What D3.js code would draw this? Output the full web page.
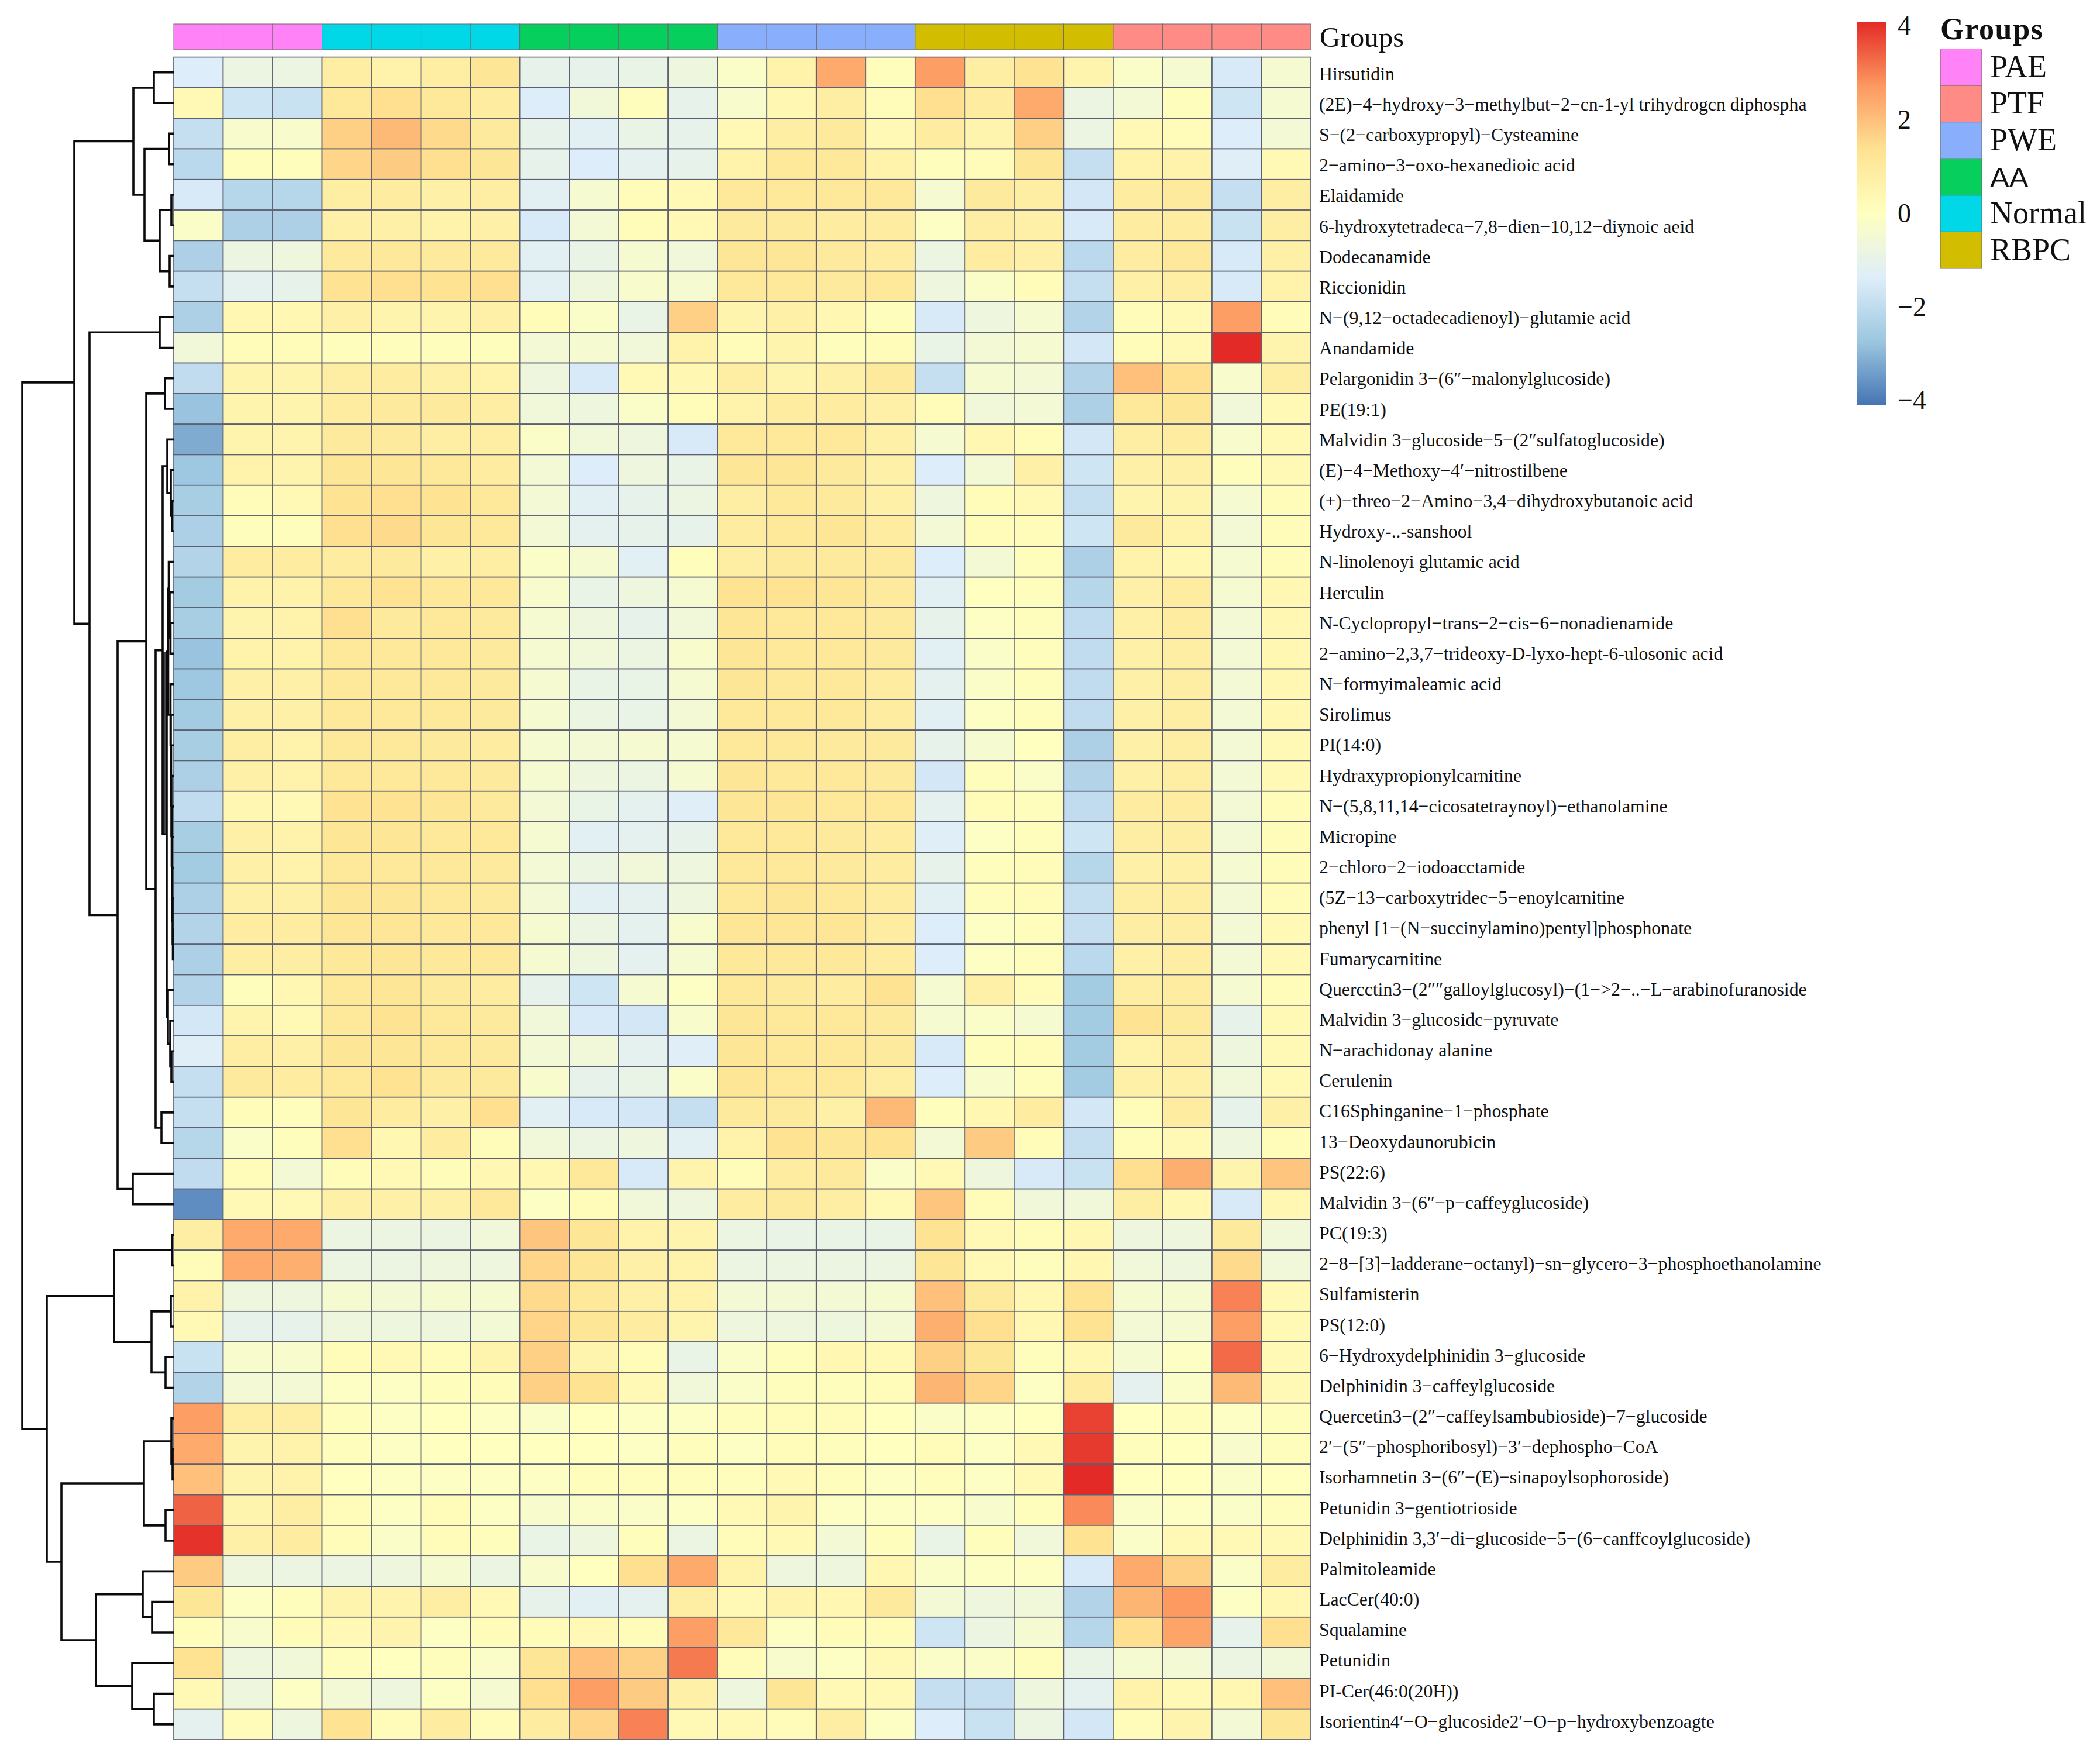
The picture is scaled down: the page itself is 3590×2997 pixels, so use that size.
<!DOCTYPE html>
<html>
<head>
<meta charset="utf-8">
<style>
  html, body { margin: 0; padding: 0; background: #fff; }
  text { font-family: "Liberation Serif", serif; fill: #111; }
</style>
<script src="https://cdn.jsdelivr.net/npm/d3@7"></script>
</head>
<body>
<script>
var rowLabels = [
  "Hirsutidin",
  "(2E)−4−hydroxy−3−methylbut−2−cn-1-yl trihydrogcn diphospha",
  "S−(2−carboxypropyl)−Cysteamine",
  "2−amino−3−oxo-hexanedioic acid",
  "Elaidamide",
  "6-hydroxytetradeca−7,8−dien−10,12−diynoic aeid",
  "Dodecanamide",
  "Riccionidin",
  "N−(9,12−octadecadienoyl)−glutamie acid",
  "Anandamide",
  "Pelargonidin 3−(6″−malonylglucoside)",
  "PE(19:1)",
  "Malvidin 3−glucoside−5−(2″sulfatoglucoside)",
  "(E)−4−Methoxy−4′−nitrostilbene",
  "(+)−threo−2−Amino−3,4−dihydroxybutanoic acid",
  "Hydroxy-..-sanshool",
  "N-linolenoyi glutamic acid",
  "Herculin",
  "N-Cyclopropyl−trans−2−cis−6−nonadienamide",
  "2−amino−2,3,7−trideoxy-D-lyxo-hept-6-ulosonic acid",
  "N−formyimaleamic acid",
  "Sirolimus",
  "PI(14:0)",
  "Hydraxypropionylcarnitine",
  "N−(5,8,11,14−cicosatetraynoyl)−ethanolamine",
  "Micropine",
  "2−chloro−2−iodoacctamide",
  "(5Z−13−carboxytridec−5−enoylcarnitine",
  "phenyl [1−(N−succinylamino)pentyl]phosphonate",
  "Fumarycarnitine",
  "Quercctin3−(2″″galloylglucosyl)−(1−>2−..−L−arabinofuranoside",
  "Malvidin 3−glucosidc−pyruvate",
  "N−arachidonay alanine",
  "Cerulenin",
  "C16Sphinganine−1−phosphate",
  "13−Deoxydaunorubicin",
  "PS(22:6)",
  "Malvidin 3−(6″−p−caffeyglucoside)",
  "PC(19:3)",
  "2−8−[3]−ladderane−octanyl)−sn−glycero−3−phosphoethanolamine",
  "Sulfamisterin",
  "PS(12:0)",
  "6−Hydroxydelphinidin 3−glucoside",
  "Delphinidin 3−caffeylglucoside",
  "Quercetin3−(2″−caffeylsambubioside)−7−glucoside",
  "2′−(5″−phosphoribosyl)−3′−dephospho−CoA",
  "Isorhamnetin 3−(6″−(E)−sinapoylsophoroside)",
  "Petunidin 3−gentiotrioside",
  "Delphinidin 3,3′−di−glucoside−5−(6−canffcoylglucoside)",
  "Palmitoleamide",
  "LacCer(40:0)",
  "Squalamine",
  "Petunidin",
  "PI-Cer(46:0(20H))",
  "Isorientin4′−O−glucoside2′−O−p−hydroxybenzoagte"
];

// one group name per column, left to right
var columnGroups = [
  "PAE", "PAE", "PAE",
  "Normal", "Normal", "Normal", "Normal",
  "AA", "AA", "AA", "AA",
  "PWE", "PWE", "PWE", "PWE",
  "RBPC", "RBPC", "RBPC", "RBPC",
  "PTF", "PTF", "PTF", "PTF"
];

var legendGroups = ["PAE", "PTF", "PWE", "AA", "Normal", "RBPC"];
var groupColors = ["#ff82f6", "#ff8b87", "#88aefc", "#06cf5d", "#00d8e8", "#d2bd00"];

var colorStops = [-4.1, -2.73, -1.37, 0, 1.37, 2.73, 4.1];
var colorRamp = ["#4575b4", "#9dc7e0", "#deeefa", "#ffffbf", "#fee291", "#fd9860", "#e32a26"];
var legendTicks = [-4, -2, 0, 2, 4];

var cellValues = [
  [-1.4,-.8,-.8,.8,.6,.8,1.2,-1,-1,-.9,-.7,-.2,.6,2.4,.1,2.6,.8,1.3,.5,-.2,-.4,-1.5,-.4],
  [.3,-1.7,-1.8,1.1,1.4,1.1,.9,-1.4,-.6,.1,-1,-.3,.4,.8,.2,1.4,.9,2.4,-.8,-.5,.1,-1.7,-.4],
  [-1.9,-.3,-.3,1.7,2.1,1.5,1,-1,-1.2,-.9,-1,.3,.8,1,.3,.9,.5,1.7,-.8,.3,.2,-1.4,-.5],
  [-2.1,.1,.1,1.6,1.8,1.4,1.2,-1,-1.4,-1.1,-1,.6,1.1,1.1,.6,.1,.2,1.2,-1.9,.6,.6,-1.3,.3],
  [-1.5,-2.2,-2.2,.8,.9,.7,.8,-1.2,-.4,.2,.3,1.1,1.1,1.1,1.1,-.4,1,.8,-1.6,.9,1,-1.9,.8],
  [-.2,-2.4,-2.4,.7,.7,.6,.7,-1.5,-.5,.2,.3,1,1,.9,.9,-.1,.8,.7,-1.5,.9,.9,-1.8,.8],
  [-2.4,-.8,-.7,1,1.1,1,1,-1.2,-.9,-.4,-.6,1.2,1.2,1,.9,-.8,.9,.7,-2.1,.9,1.1,-1.5,.7],
  [-1.9,-1.1,-1,1.3,1.4,1.3,1.4,-1.2,-.7,-.3,-.4,1.1,1.1,1,1.1,-.7,-.2,.2,-1.9,.7,.8,-1.5,.6],
  [-2.4,.4,.4,.7,.5,.5,.7,.2,-.2,-.9,1.7,.5,.7,.4,.1,-1.5,-.7,-.4,-2.3,.2,.3,2.6,.2],
  [-.6,.2,.2,.1,.1,.1,.1,-.5,-.4,-.6,.6,.2,.5,.1,.2,-.9,-.5,-.4,-1.6,.2,.3,4.1,.5],
  [-2,.5,.5,.8,.9,.7,.6,-.7,-1.5,.3,.4,.8,.5,.7,1,-1.9,-.4,-.5,-2.3,2,1.4,-.3,.8],
  [-2.8,.5,.5,.9,1,1,.8,-.6,-.7,-.2,.2,.6,.9,.9,.7,.2,-.6,-.5,-2.4,1.1,1.2,-.6,.3],
  [-3.2,.5,.5,1,1,.8,.8,-.2,-.6,-.7,-1.5,1.1,1.1,1.1,.7,-.4,.4,.2,-1.6,.8,.9,-.3,.3],
  [-2.7,.6,.5,1.2,1.2,1.1,.9,-.5,-1.4,-.7,-.9,1.2,1.2,1,.7,-1.4,-.5,.7,-1.7,.7,.7,.1,.3],
  [-2.5,.2,.3,1.3,1.4,1.3,1.1,-.5,-1.2,-1,-.8,.8,1.1,1,.7,-.7,.2,.3,-1.9,.5,.5,-.4,.2],
  [-2.4,.1,.1,1.4,1.5,1.2,1.1,-.5,-1.1,-1,-1,.9,1.1,1.2,.9,-.5,.2,.2,-1.7,1,.6,-.5,.2],
  [-2.3,.9,.9,.9,1,.7,.8,-.2,-.4,-1.2,.1,.8,1,1,1,-1.4,-.5,.1,-2.4,.6,.4,-.4,.2],
  [-2.6,.6,.6,1.1,1.3,1.1,1.1,-.3,-.9,-.7,-.4,1.3,1.3,1.2,1,-1.2,0,.1,-2.2,.7,.9,-.4,.4],
  [-2.5,.5,.6,1.4,1,1.1,1,-.4,-.7,-1,-.6,1.2,1.1,1.1,1,-1,-.1,.1,-2,.7,.9,-.5,.4],
  [-2.8,.6,.6,1.1,1.1,1.1,1,-.4,-.6,-.8,-.3,1.2,1.1,1.1,1,-1.2,-.2,.1,-2,.7,.8,-.5,.4],
  [-2.7,.7,.7,1.1,1.1,1.1,1,-.4,-.9,-.9,-.4,1.2,1.1,1.1,.9,-1.1,-.2,.1,-2,.7,.8,-.5,.4],
  [-2.6,.7,.7,1.1,1.1,1.1,1,-.4,-.8,-.9,-.5,1.1,1.1,1.1,.9,-1.2,-.1,.1,-2,.7,.8,-.5,.4],
  [-2.5,.8,.6,1.1,1.1,1,.9,-.4,-.5,-.4,-.4,1.1,1.1,1,1,-1,-.4,0,-2.4,.7,.8,-.5,.3],
  [-2.4,.7,.6,1.1,1.1,1.1,1,-.4,-.7,-.8,-.4,1.2,1.1,1.1,1,-1.6,.1,-.2,-2.3,.7,.8,-.5,.3],
  [-2,.4,.3,1.3,1.3,1.2,1,-.5,-.9,-1.1,-1.3,1.2,1.2,1.1,1.1,-1.1,.2,.1,-2,.9,.9,-.5,.2],
  [-2.5,.7,.6,1.2,1.2,1.1,1.1,-.4,-1.2,-1.1,-1,1.1,1.1,1,.9,-1.3,-.1,.1,-1.7,.8,.8,-.5,.2],
  [-2.6,.7,.6,1.1,1.1,1.1,1,-.5,-.8,-.6,-.7,1.1,1.1,1,.9,-1,.1,.2,-2.2,.7,.7,-.4,.2],
  [-2.4,.7,.7,1.2,1.2,1.1,1,-.5,-1.2,-1.1,-.7,1.1,1.2,1.1,.9,-1.2,.1,.2,-1.9,.8,.8,-.5,.2],
  [-2.3,.9,.9,1.2,1.2,1.1,1.1,-.4,-.8,-1.1,-.3,1.2,1.2,1.2,.9,-1.4,-.1,.1,-1.9,.8,.8,-.5,.3],
  [-2.4,.8,.8,1.1,1.2,1.1,1.1,-.4,-.7,-1.1,-.4,1.1,1.1,1.1,.9,-1.4,-.1,.1,-2.1,.7,.8,-.5,.3],
  [-2.3,.1,.4,1.1,1.2,1,.9,-1,-1.7,-.4,-.1,1.1,1,.9,1.3,-.4,.7,.2,-2.6,.8,.9,-.4,.2],
  [-1.6,.5,.3,1.1,1.3,1.1,1,-.6,-1.5,-1.6,-.3,1.2,1.1,1.1,1,-.4,-.2,-.4,-2.6,1.3,1,-1,.3],
  [-1.3,.8,.7,1.2,1.2,1.1,1,-.5,-.6,-1.1,-1.3,1.2,1.1,1.1,1,-1.5,.1,.2,-2.6,.6,.8,-.7,.3],
  [-1.9,1,.9,1.1,1.3,1,1,-.3,-1,-.9,-.2,1.2,1.1,1.1,.8,-1.4,-.3,.1,-2.6,.7,.7,-.6,.3],
  [-1.9,.2,.1,1.2,.9,.7,1.4,-1.2,-1.5,-1.6,-1.9,1,1,.7,2.1,.1,.4,.9,-1.6,.2,.9,-1,.7],
  [-2.2,-.2,.1,1.4,.4,.9,.2,-.6,-.8,-.7,-1.2,.6,1.3,1.2,1.3,-.5,1.8,.2,-1.9,.2,.3,-.7,.2],
  [-2,.2,-.5,.2,.3,.2,.4,.4,1.1,-1.5,.5,.2,.9,1,-.2,.3,-.7,-1.5,-1.8,1.4,2.3,.5,1.9],
  [-3.7,.3,.3,.7,.7,.7,1.1,-.1,.2,-.6,-.7,.9,1,.8,.3,1.9,.2,-.6,-.6,.8,.4,-1.5,.4],
  [.8,2.4,2.4,-.8,-.8,-.8,-.6,1.9,1.2,.6,.5,-.8,-.9,-.9,-.9,1.3,.3,.2,.4,-.7,-.7,1,-.6],
  [.2,2.4,2.3,-.8,-.8,-.7,-.7,1.6,1.2,.7,.6,-.8,-.8,-.8,-.8,1.2,.3,.1,.4,-.6,-.7,1.5,-.6],
  [.6,-.7,-.7,-.4,-.5,-.4,-.4,1.5,1.1,.7,.6,-.5,-.5,-.5,-.4,2,1,.4,1.3,-.4,-.4,3,.3],
  [.3,-1,-1,-.7,-.7,-.7,-.5,1.6,1.2,.9,.5,-.7,-.7,-.7,-.5,2.3,1.4,.4,1.3,-.5,-.4,2.6,.3],
  [-1.8,-.3,-.3,.2,.3,.2,.5,1.7,.5,.2,-.9,-.2,.1,.4,.3,1.7,1.2,.1,.4,-.4,-.1,3.3,.3],
  [-2.3,-.5,-.5,-.1,-.1,.1,.2,1.7,1.3,.3,-.6,-.2,.1,.1,.2,2.2,1.6,-.1,.9,-1.1,-.2,2.1,.3],
  [2.6,.8,.8,.1,-.1,0,-.1,-.2,0,-.1,-.1,.1,.2,.2,0,-.2,-.1,0,3.8,0,.1,-.1,.1],
  [2.4,.5,.6,.1,-.1,0,0,0,0,-.1,.1,-.1,.2,.1,0,.2,-.1,.3,3.9,.1,0,-.3,.1],
  [2,.5,.6,0,-.1,-.1,-.1,-.1,.1,.1,.1,.1,.3,.1,-.1,.1,-.1,.3,4.1,0,0,-.2,0],
  [3.4,.5,.8,.2,-.1,.2,-.1,-.3,-.2,-.2,-.1,.3,.5,-.1,-.1,-.1,-.3,.1,2.9,-.2,-.1,-.2,.1],
  [4,.7,.9,.2,-.2,.2,.1,-.9,-.7,.1,-.8,.2,.3,-.5,.1,-.9,.1,-.6,1.3,-.2,.3,.3,.3],
  [1.8,-.7,-.8,-.8,-.7,-.4,-.8,-.3,0,1.4,2.4,.6,-.7,-.7,.4,-.2,-.1,-.1,-1.5,2.4,1.7,-.2,.9],
  [1.2,-.1,.1,.5,.5,.8,.3,-1,-1.2,-1.1,.8,.3,.5,.4,1,-.5,-.7,-.6,-2.3,2.2,2.7,-.1,.4],
  [.1,-.3,.2,.3,.5,-.1,.2,.2,.3,.2,2.6,1.1,-.1,.2,.2,-1.7,-.8,-.4,-2.2,1.4,2.5,-1,1.4],
  [1.3,-.7,-.6,.1,0,.1,-.2,1.2,2,1.7,3.1,.2,-.3,-.1,.3,-.2,-.2,.1,-.9,-.4,-.5,-.8,-.6],
  [.3,-.7,-.1,-.5,-.7,-.1,-.4,1.4,2.6,1.8,.7,-.7,1.2,.3,.3,-1.9,-1.9,-.7,-1.1,.6,.3,.4,2],
  [-1.1,.2,-.7,1.3,.2,.9,.2,.9,1.6,3,.3,.3,.2,.8,-.1,-1.4,-1.8,-.8,-1.6,.2,.5,-.5,1.2]
];

// hclust style merge table: negative = row number, positive = earlier merge, then height
var rowMerges = [
  [-1,-2,3.4], [-3,-4,.8], [-5,-6,.4], [-7,-8,.7], [3,4,2.4], [2,5,5], [1,6,6.9],
  [-9,-10,2.4], [-11,-12,1.5], [-15,-16,.3], [-14,10,.5], [-13,11,1.1],
  [-29,-30,.15], [-28,13,.2], [-27,14,.25], [-26,15,.3], [-25,16,.35], [-24,17,.4],
  [-23,18,.45], [-22,19,.5], [-21,20,.55], [-19,-20,.55], [-18,22,.7], [-17,23,.85], [24,21,.95],
  [-33,-34,.4], [-32,26,.6], [-31,27,1], [25,28,1.2], [12,29,1.9], [-35,-36,2.1],
  [30,31,3.1], [9,32,4.7], [-37,-38,7], [33,34,9.6], [8,35,14.4], [7,36,17],
  [-39,-40,.3], [-41,-42,.5], [-43,-44,1.4], [39,40,3.8], [38,41,10.2],
  [-46,-47,.2], [-45,43,.4], [-48,-49,1.4], [44,45,5.1],
  [-51,-52,3.7], [-50,47,5.3], [-54,-55,3.4], [-53,49,7.1], [48,50,13.3],
  [46,51,19.2], [42,52,21.7], [37,53,25.9]
];

var width = 3590, height = 2997;
var heatLeft = 297, heatRight = 2241, heatTop = 97.6, heatBottom = 2974;

var svg = d3.select("body")
  .append("svg")
  .attr("width", width)
  .attr("height", height);

var x = d3.scaleBand().domain(d3.range(columnGroups.length)).range([heatLeft, heatRight]);
var y = d3.scaleBand().domain(rowLabels).range([heatTop, heatBottom]);
var color = d3.scaleLinear().domain(colorStops).range(colorRamp).clamp(true);
var groupColor = d3.scaleOrdinal().domain(legendGroups).range(groupColors);

// cells
var rows = svg.append("g").selectAll("g")
  .data(cellValues)
  .enter().append("g")
  .attr("transform", function (d, i) { return "translate(0," + y(rowLabels[i]) + ")"; });

rows.selectAll("rect")
  .data(function (d) { return d; })
  .enter().append("rect")
  .attr("x", function (d, i) { return x(i); })
  .attr("width", x.bandwidth())
  .attr("height", y.bandwidth())
  .attr("fill", function (d) { return color(d); })
  .attr("stroke", "#5d6070")
  .attr("stroke-width", 1.7);

// column annotation
svg.append("g").selectAll("rect")
  .data(columnGroups)
  .enter().append("rect")
  .attr("x", function (d, i) { return x(i); })
  .attr("y", 41)
  .attr("width", x.bandwidth())
  .attr("height", 44)
  .attr("fill", function (d) { return groupColor(d); })
  .attr("stroke", "#6b6b6b")
  .attr("stroke-width", 1);

svg.append("text")
  .attr("x", 2256)
  .attr("y", 80)
  .attr("font-size", 49)
  .text("Groups");

// row labels sit on a slightly tighter pitch than the cells in the reference
var labelY = d3.scalePoint().domain(rowLabels).range([126, 2943]);
var rowAxis = svg.append("g")
  .attr("transform", "translate(" + 2255 + ",0)")
  .call(d3.axisRight(labelY).tickSize(0).tickPadding(0));
rowAxis.select(".domain").remove();
rowAxis.selectAll("text")
  .attr("font-family", "Liberation Serif")
  .attr("font-size", 31.8);

// dendrogram
var heightX = d3.scaleLinear().domain([0, 25.9]).range([heatLeft, 38]);
var nodes = [];

function nodeOf(ref) {
  if (ref < 0) {
    return { y: y(rowLabels[-ref - 1]) + y.bandwidth() / 2, h: 0 };
  }
  return nodes[ref - 1];
}

var dendro = d3.path();
rowMerges.forEach(function (m) {
  var a = nodeOf(m[0]), b = nodeOf(m[1]), hx = heightX(m[2]);
  dendro.moveTo(heightX(a.h), a.y);
  dendro.lineTo(hx, a.y);
  dendro.lineTo(hx, b.y);
  dendro.lineTo(heightX(b.h), b.y);
  nodes.push({ y: (a.y + b.y) / 2, h: m[2] });
});

// merges 29 and 30 run side by side and blur into a dark band in the reference
svg.append("rect")
  .attr("x", heightX(nodes[29].h))
  .attr("y", nodes[24].y)
  .attr("width", heightX(nodes[28].h) - heightX(nodes[29].h))
  .attr("height", nodes[28].y - nodes[24].y)
  .attr("fill", "#444");

svg.append("path")
  .attr("d", dendro.toString())
  .attr("fill", "none")
  .attr("stroke", "#0a0a0a")
  .attr("stroke-width", 3.6);

// colour bar
var legendY = d3.scaleLinear().domain([-4.09, 4.09]).range([692, 37]);
var gradient = svg.append("defs").append("linearGradient")
  .attr("id", "bar")
  .attr("x1", 0).attr("x2", 0).attr("y1", 1).attr("y2", 0);
gradient.selectAll("stop")
  .data(colorStops)
  .enter().append("stop")
  .attr("offset", function (d) { return (d + 4.1) / 8.2; })
  .attr("stop-color", function (d) { return color(d); });

svg.append("rect")
  .attr("x", 3174.5)
  .attr("y", legendY(4.09))
  .attr("width", 50.5)
  .attr("height", legendY(-4.09) - legendY(4.09))
  .attr("fill", "url(#bar)");

var legendAxis = svg.append("g")
  .attr("transform", "translate(3244,0)")
  .call(d3.axisRight(legendY).tickValues(legendTicks).tickSize(0).tickPadding(0));
legendAxis.select(".domain").remove();
legendAxis.selectAll("text")
  .attr("font-family", "Liberation Sans")
  .attr("font-size", 46);

// group legend
var swatchY = d3.scaleBand().domain(legendGroups).range([83.5, 459]);

svg.append("text")
  .attr("x", 3317)
  .attr("y", 67)
  .attr("font-size", 52)
  .attr("font-weight", "bold")
  .attr("textLength", 175)
  .text("Groups");

svg.append("g").selectAll("rect")
  .data(legendGroups)
  .enter().append("rect")
  .attr("x", 3317)
  .attr("y", function (d) { return swatchY(d); })
  .attr("width", 71)
  .attr("height", swatchY.bandwidth())
  .attr("fill", function (d) { return groupColor(d); })
  .attr("stroke", "#6b6b6b")
  .attr("stroke-width", 1);

svg.append("g").selectAll("text")
  .data(legendGroups)
  .enter().append("text")
  .attr("x", 3402)
  .attr("y", function (d) { return swatchY(d) + swatchY.bandwidth() / 2 + 17; })
  .attr("font-size", function (d) { return d === "AA" ? 49 : 54; })
  .style("font-family", function (d) { return d === "AA" ? "Liberation Sans" : "Liberation Serif"; })
  .text(function (d) { return d; });
</script>
</body>
</html>
